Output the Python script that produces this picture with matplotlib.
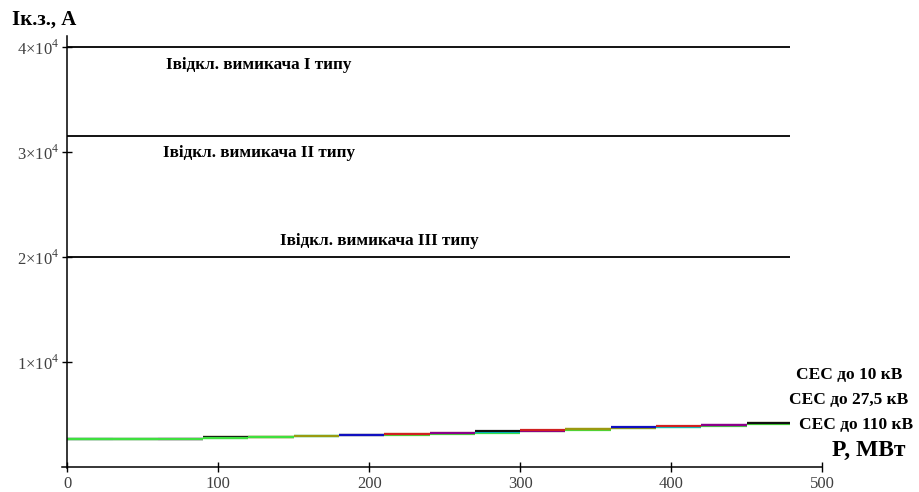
import numpy as np
import matplotlib
matplotlib.use("Agg")
import matplotlib.pyplot as plt
from matplotlib.ticker import FixedLocator, FuncFormatter

plt.rcParams['font.family'] = ['Liberation Serif', 'DejaVu Serif']
plt.rcParams['mathtext.fontset'] = 'custom'
plt.rcParams['mathtext.rm'] = 'Liberation Serif'

# step edges, MW
p_edges = [0, 30, 60, 90, 120, 150, 180, 210, 240, 270, 300, 330, 360, 390, 420, 450, 479]
# short-circuit current on each step, A
i_110 = [2640, 2650, 2660, 2800, 2820, 2950, 3000, 3080, 3170, 3260, 3400, 3560, 3680, 3800, 3930, 4120]
i_275 = [2650, 2660, 2680, 2810, 2850, 2980, 3030, 3120, 3200, 3300, 3450, 3620, 3740, 3790, 3970, 4150]
i_10 = [2660, 2670, 2690, 2830, 2880, 2990, 3050, 3170, 3230, 3460, 3520, 3640, 3760, 3880, 4030, 4220]

# breaker switching currents, A
breaker_i = [40000, 31500, 20000]
breaker_lbl = ["Івідкл. вимикача І типу", "Івідкл. вимикача ІІ типу", "Івідкл. вимикача ІІІ типу"]
breaker_pos = [(65.6, 38300), (63.6, 29900), (141, 21500)]

ses_lbl = ["СЕС до 10 кВ", "СЕС до 27,5 кВ", "СЕС до 110 кВ"]
ses_pos = [(483, 8760), (478, 6380), (485, 4000)]

x_ticks = [0, 100, 200, 300, 400, 500]
y_ticks = [10000, 20000, 30000, 40000]

fig = plt.figure(figsize=(9.19, 4.92), dpi=100)
ax = fig.add_axes([62/919, 24/492, 760/919, 431.5/492])

for yv in breaker_i:
    ax.hlines(yv, 0, 479, colors='black', lw=1.3)

p0 = np.array(p_edges[:-1])
p1 = np.array(p_edges[1:])
ax.hlines(i_110, p0, p1, colors='#3ee03e', lw=1.6)
cols_a = ['#9a9a10', '#00c8c8', '#8a008a', '#9a9a10']
cols_b = ['#1010c0', '#d02020', '#8a008a', '#101010', '#d02020', '#9a9a10']
ax.hlines(i_275, p0, p1, colors=[cols_a[k % len(cols_a)] for k in range(len(p0))], lw=1.6)
ax.hlines(i_10, p0, p1, colors=[cols_b[k % len(cols_b)] for k in range(len(p0))], lw=1.6)
ax.hlines(i_110[:5], p0[:5], p1[:5], colors='#3ee03e', lw=1.6)

ax.set_xlim(-3.5, 500)
ax.set_ylim(-100, 41000)
for s in ['top', 'right']:
    ax.spines[s].set_visible(False)
ax.spines['left'].set_position(('data', 0))
ax.spines['bottom'].set_position(('data', 0))
ax.spines['left'].set_linewidth(1.1)
ax.spines['bottom'].set_linewidth(1.1)

ax.xaxis.set_major_locator(FixedLocator(x_ticks))
ax.yaxis.set_major_locator(FixedLocator(y_ticks))
ax.yaxis.set_major_formatter(FuncFormatter(lambda v, p: r"$%d{\times}10^{4}$" % round(v / 1e4)))
ax.tick_params(direction='inout', length=7, width=1, labelsize=12, labelcolor='#404040', pad=2)
ax.tick_params(axis='x', pad=3)

for (x, y), t in zip(breaker_pos, breaker_lbl):
    ax.text(x, y, t, fontsize=12.3, fontweight='bold', va='center', ha='left')
for (x, y), t in zip(ses_pos, ses_lbl):
    ax.text(x, y, t, fontsize=12.5, fontweight='bold', va='center', ha='left')

fig.text(12/919, 1 - 20/492, "Iк.з., А", fontsize=15, fontweight='bold', va='center', ha='left')
fig.text(832/919, 1 - 450/492, "P, МВт", fontsize=17, fontweight='bold', va='center', ha='left')

fig.savefig("out.png", dpi=100)
